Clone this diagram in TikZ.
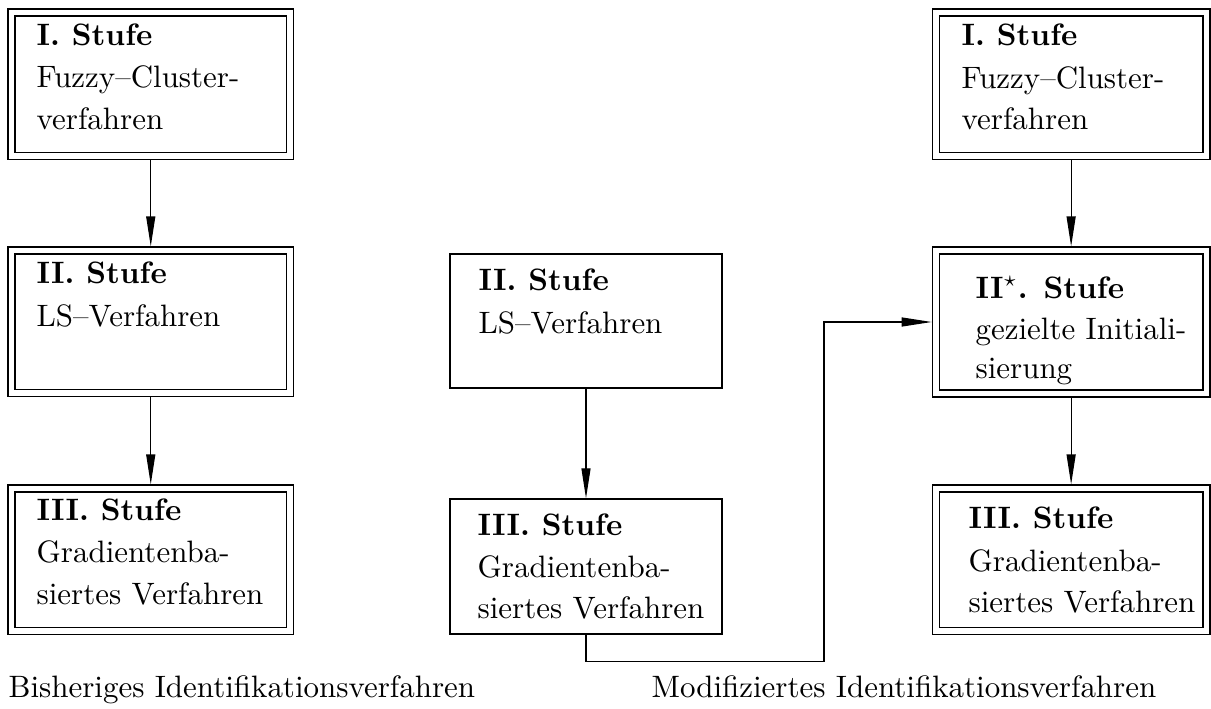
\documentclass[tikz,border=0pt]{standalone}
\usetikzlibrary{arrows.meta}
\begin{document}
\begin{tikzpicture}[
  x=0.323pt, y=-0.323pt,
  box span/.style n args={4}{at={({(#1+#3)/2},{(#2+#4)/2})},
    minimum width={(#3-#1)*0.323pt}, minimum height={(#4-#2)*0.323pt}},
  dbox/.style={draw, rectangle, inner sep=0pt, line width=0.4pt,
    double, double distance=1.85pt},
  sbox/.style={draw, rectangle, inner sep=0pt, line width=0.4pt},
  txt/.style={anchor=base west, inner sep=0pt},
  flow/.style={line width=0.4pt, -{Triangle[length=9.7pt,width=2.9pt]}},
  gap/.style={shorten <=1.1pt, shorten >=1.1pt}
]
\useasboundingbox (0,0) rectangle (1211,709);

% left column: previous procedure
\node[dbox, box span={11.5}{12.5}{290}{156}] (l1) {};
\node[dbox, box span={11.5}{250.5}{290}{393}] (l2) {};
\node[dbox, box span={11.5}{488.5}{290}{631}] (l3) {};
\node[txt] (l1a) at (36,45)  {\textbf{I. Stufe}};
\node[txt] (l1b) at (36,87)  {Fuzzy--Cluster-};
\node[txt] (l1c) at (36,129) {verfahren};
\node[txt] (l2a) at (36,283) {\textbf{II. Stufe}};
\node[txt] (l2b) at (36,326) {LS--Verfahren};
\node[txt] (l3a) at (36,520) {\textbf{III. Stufe}};
\node[txt] (l3b) at (36,562) {Gradientenba-};
\node[txt] (l3c) at (36,604) {siertes Verfahren};
\draw[flow, gap] (l1.south) -- (l2.north);
\draw[flow, gap] (l2.south) -- (l3.north);

% middle column
\node[sbox, box span={450}{254}{722}{388}] (m2) {};
\node[sbox, box span={450}{499}{722}{634}] (m3) {};
\node[txt] (m2a) at (478,290) {\textbf{II. Stufe}};
\node[txt] (m2b) at (478,333) {LS--Verfahren};
\node[txt] (m3a) at (477,535) {\textbf{III. Stufe}};
\node[txt] (m3b) at (477,577) {Gradientenba-};
\node[txt] (m3c) at (477,618) {siertes Verfahren};
\draw[flow] (m2.south) -- (m3.north);

% right column: modified procedure
\node[dbox, box span={935.75}{12.5}{1206.5}{156}] (r1) {};
\node[dbox, box span={935.75}{250.5}{1206.5}{393.5}] (r2) {};
\node[dbox, box span={935.75}{488.5}{1206.5}{631}] (r3) {};
\node[txt] (r1a) at (961,45)  {\textbf{I. Stufe}};
\node[txt] (r1b) at (961,88)  {Fuzzy--Cluster-};
\node[txt] (r1c) at (961,129) {verfahren};
\node[txt] (r2a) at (975,298) {\textbf{II$^\star$. Stufe}};
\node[txt] (r2b) at (975,339) {gezielte Initiali-};
\node[txt] (r2c) at (975,378) {sierung};
\node[txt] (r3a) at (968,528) {\textbf{III. Stufe}};
\node[txt] (r3b) at (968,571) {Gradientenba-};
\node[txt] (r3c) at (968,612) {siertes Verfahren};
\draw[flow, gap] (r1.south) -- (r2.north);
\draw[flow, gap] (r2.south) -- (r3.north);

% feedback path from the middle gradient stage into stage II*
\coordinate (k1) at (824,661.5);
\coordinate (k2) at (824,322);
\draw[flow, shorten >=1.1pt] (m3.south) |- (k1) -- (k2) -- (r2.west);

% captions
\node[txt] (capl) at (8,697)   {Bisheriges Identifikationsverfahren};
\node[txt] (capr) at (651,697) {Modifiziertes Identifikationsverfahren};
\end{tikzpicture}
\end{document}
